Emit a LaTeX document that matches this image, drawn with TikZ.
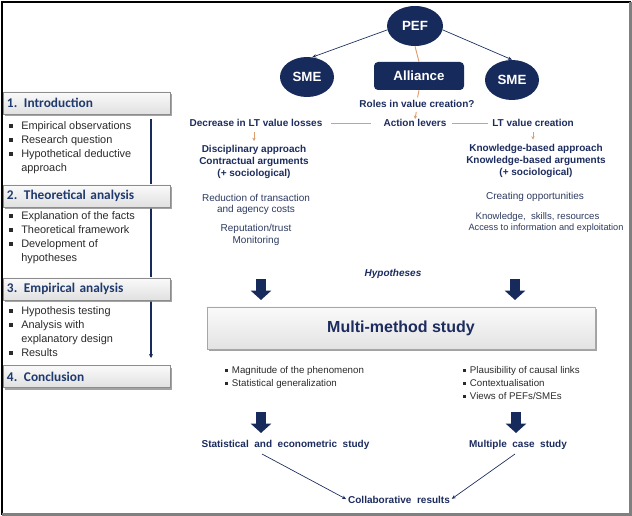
\documentclass[tikz,border=0pt]{standalone}
\usepackage{fontspec}
\setmainfont{Liberation Sans}
\newfontfamily\calfont{Carlito}
\usetikzlibrary{shapes.geometric,arrows.meta,shadows}
\definecolor{navy}{HTML}{172A5C}
\definecolor{orng}{HTML}{E09C6C}
\definecolor{navytxt}{HTML}{1C2C5E}
\definecolor{ctxt}{HTML}{2D3A60}
\definecolor{ltxt}{HTML}{2A2A2A}
\definecolor{hdrtxt}{HTML}{1F3A6E}
\definecolor{hdrborder}{HTML}{8C8C8C}
\newcommand\bul{\makebox[9pt][l]{\rule[1.6pt]{2.6pt}{2.6pt}}}
\newcommand\sbul{\makebox[5pt][l]{\rule[1.5pt]{2.3pt}{2.3pt}}}
\begin{document}
\begin{tikzpicture}[x=0.75pt,y=-0.75pt,
  txt/.style={inner sep=0pt, font=\fontsize{7.5}{9}\selectfont, text=ctxt, align=center},
  btxt/.style={inner sep=0pt, font=\bfseries\fontsize{7.5}{9}\selectfont, text=navytxt, align=center},
  litem/.style={inner sep=0pt, anchor=west, font=\fontsize{8.2}{10}\selectfont, text=ltxt, text height=6pt, text depth=1.5pt},
  sitem/.style={inner sep=0pt, anchor=west, font=\fontsize{7.3}{9}\selectfont, text=ltxt, text height=5.5pt, text depth=1.4pt},
  hdr/.style={draw=hdrborder, line width=0.6pt, top color=gray!4, bottom color=gray!24,
    minimum height=16.5pt, text width=119.25pt, inner xsep=3pt, inner ysep=0pt, align=left,
    font=\calfont\bfseries\fontsize{10}{12}\selectfont, text=hdrtxt,
    drop shadow={shadow xshift=1.6pt, shadow yshift=-1.6pt, fill=gray!90, opacity=0.8}},
  blob/.style={ellipse, fill=navy, text=white, font=\bfseries\fontsize{10}{12}\selectfont,
    minimum width=40.5pt, minimum height=30pt, inner sep=0pt},
  olink/.style={draw=orng, line width=0.7pt},
  oarr/.style={draw=orng, line width=0.7pt, -{Stealth[length=2.5pt,width=2.5pt]}},
  narr/.style={draw=navy, line width=0.5pt, -{Stealth[length=3pt,width=2.6pt]}},
  bigarr/.style={draw=navy, line width=7.5pt, -{Triangle[length=7pt,width=15pt]}}
]
\useasboundingbox (0,0) rectangle (632,516);

% frame
\draw[black, line width=1.5pt] (2,514.5) -- (2,2) -- (630.5,2);
\draw[gray, line width=2.2pt] (630.5,2) -- (630.5,514.5) -- (2,514.5);

% left panel
\coordinate (vt) at (151,119);
\coordinate (vb) at (151,358);
\draw[navy, line width=1.1pt, -{Stealth[length=3pt,width=3pt]}] (vt) -- (vb);

\node[hdr] (h1) at (86.5,103) {1. Introduction};
\node[hdr] (h2) at (86.5,196) {2. Theoretical analysis};
\node[hdr] (h3) at (86.5,289) {3. Empirical analysis};
\node[hdr] (h4) at (86.5,376.5) {4. Conclusion};

\node[litem] (l1) at (9,127) {\bul Empirical observations};
\node[litem] (l2) at (9,141) {\bul Research question};
\node[litem] (l3) at (9,155) {\bul Hypothetical deductive};
\node[litem] (l3b) at (21,169) {approach};
\node[litem] (l4) at (9,217) {\bul Explanation of the facts};
\node[litem] (l5) at (9,231) {\bul Theoretical framework};
\node[litem] (l6) at (9,245) {\bul Development of};
\node[litem] (l6b) at (21,259) {hypotheses};
\node[litem] (l7) at (9,312) {\bul Hypothesis testing};
\node[litem] (l8) at (9,326) {\bul Analysis with};
\node[litem] (l8b) at (21,340) {explanatory design};
\node[litem] (l9) at (9,354) {\bul Results};

% top
\node[blob, minimum width=42pt] (pef) at (415,26) {PEF};
\node[blob] (sme1) at (307,77) {SME};
\node[blob] (sme2) at (512,80) {SME};
\node[fill=navy, rounded corners=3pt, minimum width=67.5pt, minimum height=21pt, inner sep=0pt,
  text=white, font=\bfseries\fontsize{10}{12}\selectfont] (all) at (419,76) {Alliance};

\draw[narr] (pef.188) -- (sme1.75);
\draw[narr] (pef.-8) -- (sme2.north);
\draw[olink] (pef.south) -- (all.north);

\node[btxt] (roles) at (417,104) {Roles in value creation?};
\node[btxt] (act) at (415,123) {Action levers};
\node[btxt] (decr) at (256,123) {Decrease in LT value losses};
\node[btxt] (ltv) at (533,123) {LT value creation};

\draw[olink, shorten >=2pt] (all.south) -- (roles.north);
\draw[oarr, shorten <=3pt] (roles.south) -- (act.north);
\draw[olink, shorten <=6.5pt, shorten >=9.5pt] (decr.east) -- (act.west);
\draw[olink, shorten <=4pt, shorten >=3pt] (act.east) -- (ltv.west);

\node[btxt] (disc) at (254,162) {Disciplinary approach\\Contractual arguments\\(+ sociological)};
\node[btxt] (know) at (536,160.5) {Knowledge-based approach\\Knowledge-based arguments\\(+ sociological)};
\draw[oarr, shorten <=4pt, shorten >=3pt] (decr.south -| disc.north) -- (disc.north);
\draw[oarr, shorten <=4pt, shorten >=3pt] (ltv.south) -- (ltv.south |- know.north);

\node[txt, font=\fontsize{7.5}{8.25}\selectfont] (red) at (256,204.5) {Reduction of transaction\\and agency costs};
\node[txt] (rep) at (256,235) {Reputation/trust\\Monitoring};
\node[txt] (cre) at (535,197) {Creating opportunities};
\node[txt, font=\fontsize{7.2}{8.25}\selectfont] (ksr) at (537.5,217) {Knowledge, \ skills, resources};
\node[txt, font=\fontsize{6.9}{8.25}\selectfont] (acc) at (546,228.5) {Access to information and exploitation};

\node[btxt, font=\bfseries\itshape\fontsize{7.5}{9}\selectfont] (hyp) at (393,274) {Hypotheses};

\coordinate (a1t) at (261,279); \coordinate (a1b) at (261,300);
\coordinate (a2t) at (515,279); \coordinate (a2b) at (515,300);
\draw[bigarr] (a1t) -- (a1b);
\draw[bigarr] (a2t) -- (a2b);

\node[draw=gray!70, line width=0.6pt, top color=gray!4, bottom color=gray!22,
  minimum width=291pt, minimum height=31.5pt, inner sep=0pt,
  font=\bfseries\fontsize{12}{14}\selectfont, text=navytxt,
  drop shadow={shadow xshift=1.6pt, shadow yshift=-1.6pt, fill=gray!90, opacity=0.8}] (mm) at (401,328) {Multi-method study};

\node[sitem] (b1) at (225,371) {\sbul Magnitude of the phenomenon};
\node[sitem] (b2) at (225,384) {\sbul Statistical generalization};
\node[sitem] (b3) at (463,371) {\sbul Plausibility of causal links};
\node[sitem] (b4) at (463,384) {\sbul Contextualisation};
\node[sitem] (b5) at (463,397) {\sbul Views of PEFs/SMEs};

\coordinate (a3t) at (261,412); \coordinate (a3b) at (261,433);
\coordinate (a4t) at (516,412); \coordinate (a4b) at (516,433);
\draw[bigarr] (a3t) -- (a3b);
\draw[bigarr] (a4t) -- (a4b);

\node[btxt] (stat) at (285.5,445) {Statistical \ and \ econometric \ study};
\node[btxt] (mcs) at (518,445) {Multiple \ case \ study};
\node[btxt] (col) at (399,500) {Collaborative \ results};

\coordinate (cl) at (262,454);
\coordinate (cr) at (515,454);
\draw[narr, shorten >=1.5pt] (cl) -- (col.west);
\draw[narr, shorten >=1.5pt] (cr) -- (col.east);
\end{tikzpicture}
\end{document}
